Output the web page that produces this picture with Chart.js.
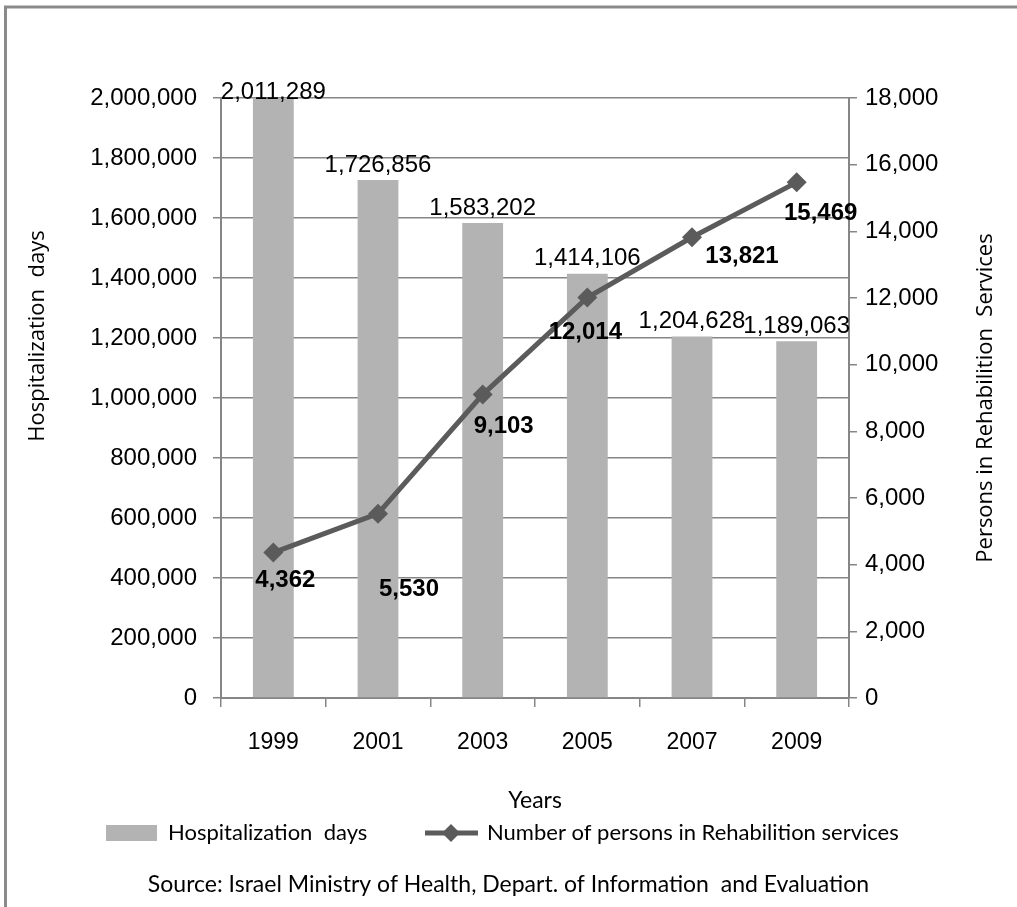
<!DOCTYPE html>
<html>
<head>
<meta charset="utf-8">
<script src="https://cdn.jsdelivr.net/npm/chart.js@4.4.0/dist/chart.umd.min.js"></script>
<style>
html,body{margin:0;padding:0;background:#fff}
#wrap{width:1017px;height:907px;position:relative}
</style>
</head>
<body>
<div id="wrap"><canvas id="c" width="1017" height="907"></canvas></div>
<script>
// data
var years = ['1999', '2001', '2003', '2005', '2007', '2009'];
var hospitalizationDays = [2011289, 1726856, 1583202, 1414106, 1204628, 1189063];
var rehabPersons = [4362, 5530, 9103, 12014, 13821, 15469];
var leftAxisMax = 2000000, leftAxisStep = 200000;
var rightAxisMax = 18000, rightAxisStep = 2000;

// hand placed label nudges (style only)
var lineLabelDx = [12, 31, 21, -2, 50, 24];
var lineLabelDy = [28, 76, 32, 35, 19, 31];

var barColor = '#b3b3b3';
var lineColor = '#5b5b5b';
var axisColor = '#868686';
var tickFont = {family: '"Liberation Sans", Arial, sans-serif', size: 24};
var textFont = 'Lato, "Open Sans", sans-serif';

function fmt(v){ return Number(v).toLocaleString('en-US'); }

var extras = {
    id: 'extras',
    beforeDraw: function(chart){
        var ctx = chart.ctx;
        ctx.save();
        ctx.fillStyle = '#fff';
        ctx.fillRect(0, 0, chart.width, chart.height);
        ctx.strokeStyle = '#8a8a8a';
        ctx.lineWidth = 3;
        ctx.beginPath();
        ctx.moveTo(5.5, chart.height);
        ctx.lineTo(5.5, 7);
        ctx.lineTo(chart.width, 7);
        ctx.stroke();
        ctx.restore();
    },
    afterDatasetsDraw: function(chart){
        var ctx = chart.ctx;
        var area = chart.chartArea;
        ctx.save();
        ctx.fillStyle = '#000';
        ctx.textAlign = 'center';
        ctx.textBaseline = 'middle';
        // bar value labels
        ctx.font = '24px "Liberation Sans", Arial, sans-serif';
        var bars = chart.getDatasetMeta(1).data;
        for(var i=0;i<bars.length;i++){
            var y = Math.max(bars[i].y - 15, area.top - 6);
            ctx.fillText(fmt(hospitalizationDays[i]), bars[i].x, y);
        }
        // line value labels
        ctx.font = 'bold 24px "Liberation Sans", Arial, sans-serif';
        var pts = chart.getDatasetMeta(0).data;
        for(var j=0;j<pts.length;j++){
            ctx.fillText(fmt(rehabPersons[j]), pts[j].x + lineLabelDx[j], pts[j].y + lineLabelDy[j]);
        }
        ctx.restore();
    },
    afterDraw: function(chart){
        var ctx = chart.ctx;
        var area = chart.chartArea;
        ctx.save();
        ctx.fillStyle = '#000';
        ctx.textBaseline = 'middle';
        ctx.textAlign = 'center';

        // axis titles
        ctx.font = '22px "Open Sans", sans-serif';
        ctx.save();
        ctx.translate(38, 336);
        ctx.rotate(-Math.PI/2);
        ctx.fillText('Hospitalization  days', 0, 0);
        ctx.restore();
        ctx.save();
        ctx.translate(986, (area.top + area.bottom)/2);
        ctx.rotate(-Math.PI/2);
        ctx.fillText('Persons in Rehabilition  Services', 0, 0);
        ctx.restore();

        // legend
        var ly = 833;
        ctx.fillStyle = barColor;
        ctx.fillRect(106, ly - 8, 51, 16);
        ctx.strokeStyle = lineColor;
        ctx.lineWidth = 5;
        ctx.beginPath();
        ctx.moveTo(425, ly);
        ctx.lineTo(478, ly);
        ctx.stroke();
        ctx.fillStyle = lineColor;
        ctx.beginPath();
        ctx.moveTo(451, ly - 9);
        ctx.lineTo(460, ly);
        ctx.lineTo(451, ly + 9);
        ctx.lineTo(442, ly);
        ctx.closePath();
        ctx.fill();
        ctx.fillStyle = '#000';
        ctx.textAlign = 'left';
        ctx.font = '22px ' + textFont;
        ctx.fillText('Hospitalization  days', 168, ly);
        ctx.fillText('Number of persons in Rehabilition services', 487, ly);

        // source line
        ctx.textAlign = 'center';
        ctx.font = '23px ' + textFont;
        ctx.fillText('Source: Israel Ministry of Health, Depart. of Information  and Evaluation', chart.width/2, 885);
        ctx.restore();
    }
};

var ctx = document.getElementById('c').getContext('2d');
var myChart = new Chart(ctx, {
    type: 'bar',
    data: {
        labels: years,
        datasets: [{
            type: 'line',
            label: 'Number of persons in Rehabilition services',
            data: rehabPersons,
            yAxisID: 'y1',
            order: 0,
            borderColor: lineColor,
            backgroundColor: lineColor,
            borderWidth: 5,
            tension: 0,
            pointStyle: 'rectRot',
            pointRadius: 10,
            pointBorderWidth: 0,
            pointBackgroundColor: lineColor
        }, {
            type: 'bar',
            label: 'Hospitalization days',
            data: hospitalizationDays,
            yAxisID: 'y',
            order: 1,
            backgroundColor: barColor,
            categoryPercentage: 1,
            barPercentage: 0.39
        }]
    },
    options: {
        responsive: false,
        animation: false,
        devicePixelRatio: 1,
        layout: {padding: {top: 98, left: 0, right: 0, bottom: 0}},
        plugins: {
            legend: {display: false},
            tooltip: {enabled: false},
            title: {display: false}
        },
        scales: {
            x: {
                grid: {display: true, drawOnChartArea: false, offset: true, tickLength: 9, color: axisColor, lineWidth: 1.5},
                border: {color: axisColor, width: 2},
                ticks: {font: {family: '"Liberation Sans", Arial, sans-serif', size: 23}, color: '#000', padding: 22},
                title: {display: true, text: 'Years', color: '#000', font: {family: textFont, size: 23}, padding: {top: 0, bottom: 93}},
                afterFit: function(s){ s.height = 907 - 698; }
            },
            y: {
                position: 'left',
                min: 0,
                max: leftAxisMax,
                ticks: {stepSize: leftAxisStep, font: tickFont, color: '#000', padding: 16, callback: function(v){ return fmt(v); }},
                grid: {color: axisColor, lineWidth: 1.5, tickLength: 8},
                border: {color: axisColor, width: 2},
                afterFit: function(s){ s.width = 221; }
            },
            y1: {
                position: 'right',
                min: 0,
                max: rightAxisMax,
                ticks: {stepSize: rightAxisStep, font: tickFont, color: '#000', padding: 8, callback: function(v){ return fmt(v); }},
                grid: {drawOnChartArea: false, color: axisColor, lineWidth: 1.5, tickLength: 8},
                border: {color: axisColor, width: 2},
                afterFit: function(s){ s.width = 1017 - 849; }
            }
        }
    },
    plugins: [extras]
});
</script>
</body>
</html>
